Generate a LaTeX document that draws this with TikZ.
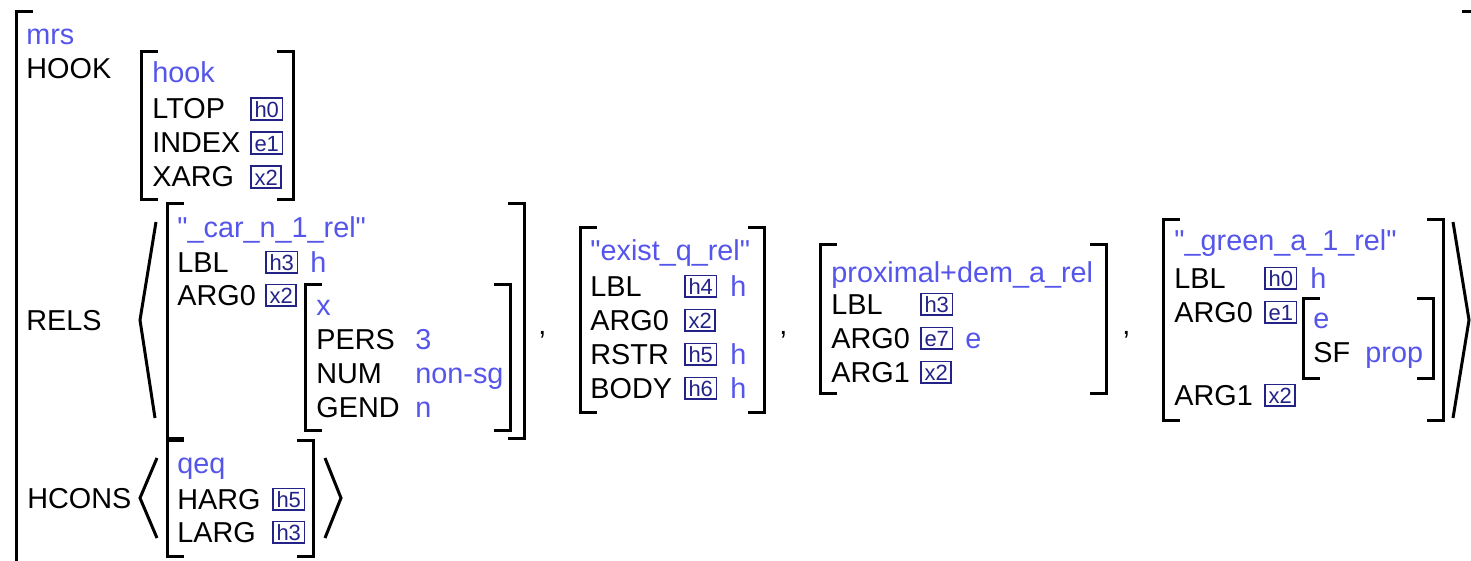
\documentclass[tikz,border=0pt]{standalone}
\usepackage{fontspec}
\setmainfont{Liberation Sans}
\definecolor{typeblue}{RGB}{85,85,235}
\definecolor{tagnavy}{RGB}{35,35,135}
\newcommand\featfont{\fontsize{14.4}{17}\selectfont}
\newcommand\tagfont{\fontsize{11}{12}\selectfont}
% straight double quote, set as a glyph so that no font mapping curls it
\newcommand\dq{\XeTeXglyph\XeTeXcharglyph"22\relax}
\usetikzlibrary{calc}
% square brackets of an AVM: left x, right x, top y, bottom y
\newcommand\avmbrackets[4]{%
  \draw[brk] ($(#1,#3)+(15,0)$) -- (#1,#3) -- (#1,#4) -- ($(#1,#4)+(15,0)$);
  \draw[brk] ($(#2,#3)-(15,0)$) -- (#2,#3) -- (#2,#4) -- ($(#2,#4)-(15,0)$);}
\tikzset{
  feat/.style={anchor=base west, inner sep=0pt, font=\featfont, text=black},
  typ/.style={feat, text=typeblue},
  tag/.style={anchor=base west, draw=tagnavy, text=tagnavy, font=\tagfont,
    line width=0.9pt, inner xsep=1.8pt, inner ysep=1.5pt,
    text height=7.9pt, text depth=0pt, yshift=0.9pt},
  brk/.style={line width=1.5pt, line join=miter, line cap=rect},
  ang/.style={line width=1.5pt, line join=miter},
}
\begin{document}
\begin{tikzpicture}[x=0.5pt, y=-0.5pt]
\clip (0,0) rectangle (1471,561);

% outer mrs structure
\draw[brk] (31,12) -- (16,12) -- (16,600);
\draw[brk] (1463,12) -- (1490,12);
\node[typ]  (mrs)   at (26,45)  {mrs};
\node[feat] (hookf) at (26,79)  {HOOK};
\node[feat] (rels)  at (26,330) {RELS};
\node[feat] (hcons) at (27,508) {HCONS};

% HOOK value
\avmbrackets{141}{293}{52}{200}
\node[typ]  (hk)    at (152,83)  {hook};
\node[feat] (ltop)  at (152,119) {LTOP};
\node[tag]  (ltopv) at (250,119) {h0};
\node[feat] (index) at (152,153) {INDEX};
\node[tag]  (indv)  at (250,153) {e1};
\node[feat] (xarg)  at (152,187) {XARG};
\node[tag]  (xargv) at (250,187) {x2};

% RELS list
\draw[ang] (156,222) -- (140,320) -- (155,418);
\draw[ang] (1453,222) -- (1469,320) -- (1453,418);

% _car_n_1_rel
\avmbrackets{167}{524}{204}{438}
\node[typ]  (car)   at (177,238) {\dq\_car\_n\_1\_rel\dq};
\node[feat] (carl)  at (177,272) {LBL};
\node[tag]  (carlv) at (265,272) {h3};
\node[typ]  (carlt) at (310,272) {h};
\node[feat] (cara)  at (177,305) {ARG0};
\node[tag]  (carav) at (265,305) {x2};
\avmbrackets{305}{510}{284}{430}
\node[typ]  (xt)    at (316,315) {x};
\node[feat] (pers)  at (316,349) {PERS};
\node[typ]  (persv) at (415,349) {3};
\node[feat] (num)   at (316,383) {NUM};
\node[typ]  (numv)  at (415,383) {non-sg};
\node[feat] (gend)  at (316,417) {GEND};
\node[typ]  (gendv) at (415,417) {n};
\node[feat] (c1)    at (538,334) {,};

% exist_q_rel
\avmbrackets{580}{764}{228}{412}
\node[typ]  (ex)    at (590,261) {\dq exist\_q\_rel\dq};
\node[feat] (exl)   at (590,296) {LBL};
\node[tag]  (exlv)  at (684,296) {h4};
\node[typ]  (exlt)  at (730,296) {h};
\node[feat] (exa)   at (590,330) {ARG0};
\node[tag]  (exav)  at (684,330) {x2};
\node[feat] (exr)   at (590,364) {RSTR};
\node[tag]  (exrv)  at (684,364) {h5};
\node[typ]  (exrt)  at (730,364) {h};
\node[feat] (exb)   at (590,398) {BODY};
\node[tag]  (exbv)  at (684,398) {h6};
\node[typ]  (exbt)  at (730,398) {h};
\node[feat] (c2)    at (779,334) {,};

% proximal+dem_a_rel
\avmbrackets{820}{1106}{245}{393}
\node[typ]  (px)    at (831,282) {proximal+dem\_a\_rel};
\node[feat] (pxl)   at (831,314) {LBL};
\node[tag]  (pxlv)  at (920,314) {h3};
\node[feat] (pxa)   at (831,348) {ARG0};
\node[tag]  (pxav)  at (920,348) {e7};
\node[typ]  (pxat)  at (965,348) {e};
\node[feat] (pxb)   at (831,382) {ARG1};
\node[tag]  (pxbv)  at (920,382) {x2};
\node[feat] (c3)    at (1122,334) {,};

% _green_a_1_rel
\avmbrackets{1163}{1443}{220}{420}
\node[typ]  (gr)    at (1174,250) {\dq\_green\_a\_1\_rel\dq};
\node[feat] (grl)   at (1174,288) {LBL};
\node[tag]  (grlv)  at (1264,288) {h0};
\node[typ]  (grlt)  at (1310,288) {h};
\node[feat] (gra)   at (1174,322) {ARG0};
\node[tag]  (grav)  at (1264,322) {e1};
\avmbrackets{1303}{1433}{298}{378}
\node[typ]  (et)    at (1313,328) {e};
\node[feat] (sf)    at (1313,362) {SF};
\node[typ]  (sfv)   at (1365,362) {prop};
\node[feat] (grb)   at (1174,405) {ARG1};
\node[tag]  (grbv)  at (1264,405) {x2};

% HCONS list
\draw[ang] (157,458) -- (140,498) -- (157,538);
\draw[ang] (325,458) -- (341,498) -- (325,538);
\avmbrackets{167}{313}{440}{556}
\node[typ]  (qeq)   at (177,473) {qeq};
\node[feat] (harg)  at (177,509) {HARG};
\node[tag]  (hargv) at (272,509) {h5};
\node[feat] (larg)  at (177,542) {LARG};
\node[tag]  (largv) at (272,542) {h3};
\end{tikzpicture}
\end{document}
